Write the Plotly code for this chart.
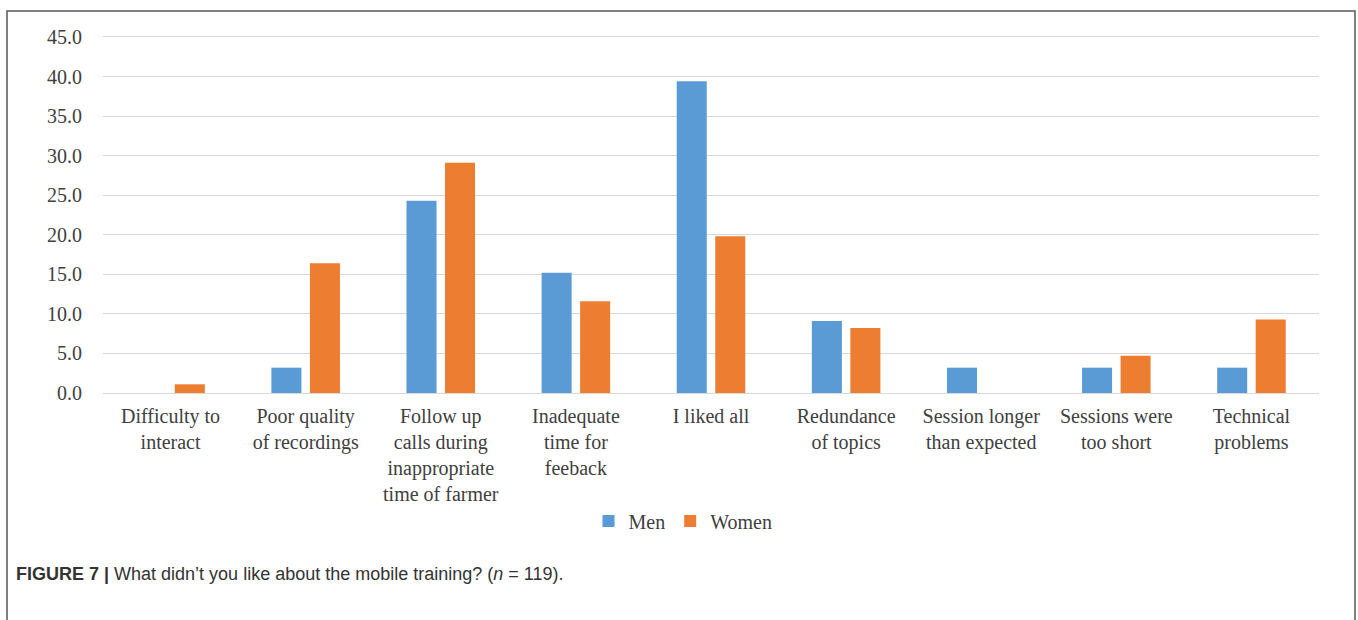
import plotly.graph_objects as go

# Survey categories (wrapped the way the axis labels are printed)
categories = [
    "Difficulty to<br>interact",
    "Poor quality<br>of recordings",
    "Follow up<br>calls during<br>inappropriate<br>time of farmer",
    "Inadequate<br>time for<br>feeback",
    "I liked all",
    "Redundance<br>of topics",
    "Session longer<br>than expected",
    "Sessions were<br>too short",
    "Technical<br>problems",
]

# Percentage of respondents per category
men = [0.0, 3.2, 24.3, 15.2, 39.4, 9.1, 3.2, 3.2, 3.2]
women = [1.1, 16.4, 29.1, 11.6, 19.8, 8.2, 0.0, 4.7, 9.3]

y_ticks = [0, 5, 10, 15, 20, 25, 30, 35, 40, 45]

W, H = 1358, 620
L, R, T, B = 103, 1319, 33, 393  # plot-area edges in pixels
Y_MAX = 45.5                     # headroom so the 45.0 gridline is drawn


def px(x):
    return (x - L) / (R - L)


def py(y):
    return (B - y) / (B - T)


serif = "Liberation Serif"
tick_col = "#404040"

fig = go.Figure()
fig.add_trace(go.Bar(name="Men", x=categories, y=men, marker_color="#5B9BD5",
                     marker_line_width=0))
fig.add_trace(go.Bar(name="Women", x=categories, y=women, marker_color="#ED7D31",
                     marker_line_width=0))

fig.update_layout(
    width=W, height=H,
    paper_bgcolor="white", plot_bgcolor="white",
    margin=dict(l=L, r=W - R, t=T, b=H - B, autoexpand=False),
    barmode="group", bargap=0.43, bargroupgap=0.22,
    showlegend=True,
    legend=dict(orientation="h", x=px(683), y=py(521), xanchor="center",
                yanchor="middle", font=dict(family=serif, size=20, color=tick_col),
                itemwidth=30, tracegroupgap=0, bgcolor="rgba(0,0,0,0)"),
    xaxis=dict(showgrid=False, showline=True, linecolor="#D9D9D9", linewidth=1,
               ticks="", ticklabelstandoff=5, tickangle=0,
               tickfont=dict(family=serif, size=20, color=tick_col)),
    yaxis=dict(range=[0, Y_MAX], tickvals=y_ticks, tickformat=".1f",
               showgrid=True, gridcolor="#D9D9D9", gridwidth=1,
               zeroline=False, showline=False, ticks="", ticklabelstandoff=20,
               tickfont=dict(family=serif, size=20, color=tick_col)),
    shapes=[
        dict(type="path", xref="paper", yref="paper",
             path=f"M {px(7)},{py(660)} L {px(7)},{py(11)} L {px(1355)},{py(11)} L {px(1355)},{py(660)}",
             line=dict(color="#555555", width=1.5)),
    ],
    annotations=[
        dict(xref="paper", yref="paper", x=px(14), y=py(574), xanchor="left",
             yanchor="middle", showarrow=False,
             text="<b>FIGURE 7 |</b> What didn\u2019t you like about the mobile training? (<i>n</i> = 119).",
             font=dict(family="Liberation Sans", size=18, color="#333333")),
    ],
)

fig.write_html("out.html")
